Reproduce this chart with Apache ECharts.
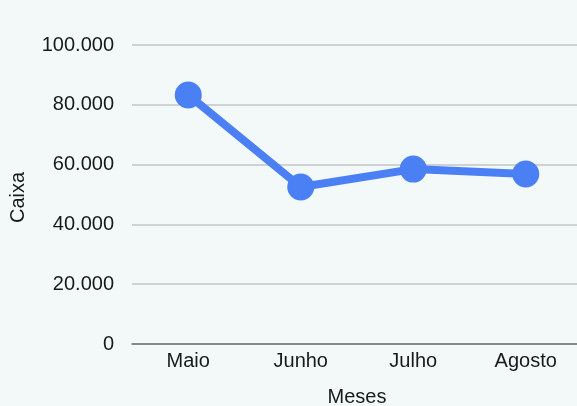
<!DOCTYPE html>
<html><head><meta charset="utf-8">
<script src="https://cdn.jsdelivr.net/npm/echarts@6/dist/echarts.min.js"></script>
<style>html,body{margin:0;padding:0;background:#f2f9f8}#c{width:577px;height:406px}</style>
</head><body><div id="c"></div>
<script>
const categories = ['Maio', 'Junho', 'Julho', 'Agosto'];
const caixa = [83300, 52500, 58500, 56850];
const yTicks = [0, 20000, 40000, 60000, 80000, 100000];

function fmt(v){ return v === 0 ? '0' : v.toLocaleString('pt-BR'); }
const font = '"Liberation Sans", Arial, sans-serif';
const chart = echarts.init(document.getElementById('c'));
chart.setOption({
  backgroundColor: '#f2f9f8',
  animation: false,
  grid: { left: 132, right: -5, top: 45, bottom: 62, containLabel: false, outerBoundsMode: 'none' },
  xAxis: {
    type: 'category', data: categories, boundaryGap: true,
    name: 'Meses', nameLocation: 'middle', nameGap: 43,
    nameTextStyle: { fontFamily: font, fontSize: 20, color: '#1a1a1a' },
    axisLine: { lineStyle: { color: '#707070', width: 1.5 } },
    axisTick: { show: false },
    axisLabel: { fontFamily: font, fontSize: 20, color: '#1a1a1a', margin: 7 }
  },
  yAxis: {
    type: 'value', min: yTicks[0], max: yTicks[yTicks.length-1], interval: 20000,
    name: 'Caixa', nameLocation: 'middle', nameGap: 104, nameRotate: 90,
    nameTextStyle: { fontFamily: font, fontSize: 20, color: '#1a1a1a', padding: [0, 6, 0, 0] },
    axisLine: { show: false }, axisTick: { show: false },
    axisLabel: { fontFamily: font, fontSize: 20, color: '#1a1a1a', margin: 18, formatter: fmt },
    splitLine: { lineStyle: { color: '#c2c6c6', width: 1.5 } }
  },
  series: [{
    type: 'line', data: caixa,
    symbol: 'circle', symbolSize: 27,
    lineStyle: { color: '#4b80f5', width: 8 },
    itemStyle: { color: '#4b80f5' }
  }]
});
</script></body></html>
